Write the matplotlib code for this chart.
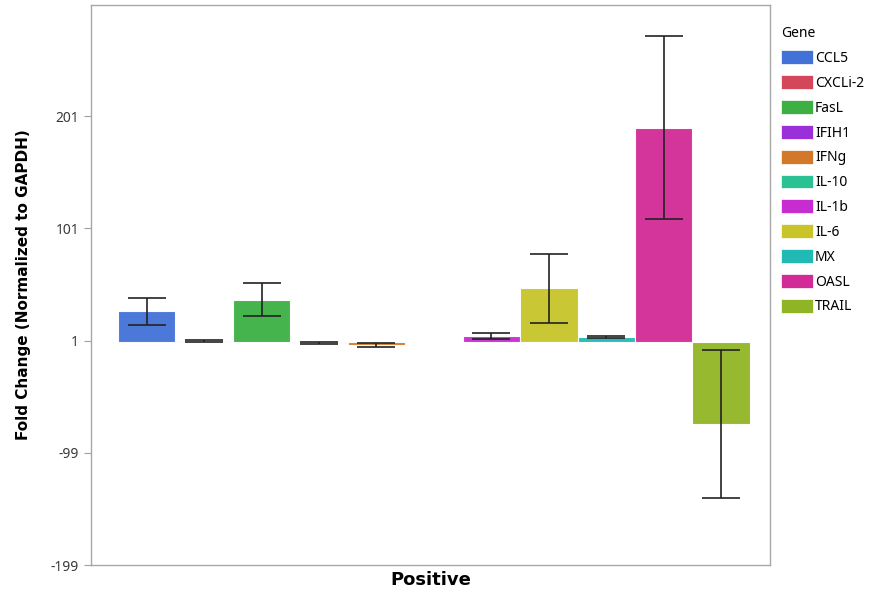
import numpy as np
import matplotlib
matplotlib.use('Agg')
from matplotlib import pyplot as plt
from matplotlib.patches import Patch

genes = ['CCL5', 'CXCLi-2', 'FasL', 'IFIH1', 'IFNg', 'IL-10',
         'IL-1b', 'IL-6', 'MX', 'OASL', 'TRAIL']
fold = [27, 0.5, 37.5, -1, -3, 0, 5, 47.5, 4, 190.5, -73]
err = [12, 1, 15, 1, 1.5, 0, 3, 30.5, 1, 81.5, 66]
colors = ['#4272d7', '#d4475a', '#3cb043', '#9b30d9', '#d2782a', '#2ac293',
          '#c62cd0', '#c8c42a', '#20b9b4', '#d22a96', '#90b524']
yticks = [-199, -99, 1, 101, 201]

plt.rcParams['font.family'] = ['Noto Sans', 'DejaVu Sans']
fig = plt.figure(figsize=(8.83, 5.94), dpi=100)
ax = fig.add_axes([0.103, 0.0488, 0.769, 0.9428])

x = np.arange(len(genes))
for i in range(len(genes)):
    if fold[i] == 0:
        continue
    ax.bar(x[i], fold[i], width=1.0, color=colors[i], edgecolor='white',
           linewidth=0.8, alpha=0.95, zorder=2)
    ax.errorbar(x[i], fold[i], yerr=err[i], fmt='none', ecolor='#222222',
                elinewidth=1.2, capsize=13.5, capthick=1.2, zorder=3)

ax.set_xlim(-0.97, 10.85)
ax.set_ylim(-199, 300)
ax.set_yticks(yticks)
ax.set_yticklabels([str(t) for t in yticks], fontsize=10, color='#3a3a3a')
ax.set_xticks([])
ax.tick_params(axis='y', length=5, color='#a0a0a0')
for s in ax.spines.values():
    s.set_color('#a8a8a8')
    s.set_linewidth(1)

ax.set_ylabel('Fold Change (Normalized to GAPDH)', fontsize=11,
              fontweight='bold', family='DejaVu Sans', labelpad=14)
ax.set_xlabel('Positive', fontsize=13, fontweight='bold',
              family='DejaVu Sans', labelpad=4)

handles = [Patch(facecolor=c, edgecolor='white', linewidth=0.5) for c in colors]
leg = ax.legend(handles, genes, title='Gene', loc='upper left',
                bbox_to_anchor=(1.008, 0.972), frameon=False, fontsize=10,
                title_fontsize=10, handlelength=2.3, handleheight=1.15,
                labelspacing=0.665, handletextpad=0.15, borderaxespad=0)
leg._legend_box.align = 'left'

fig.savefig('out.png', dpi=100)
